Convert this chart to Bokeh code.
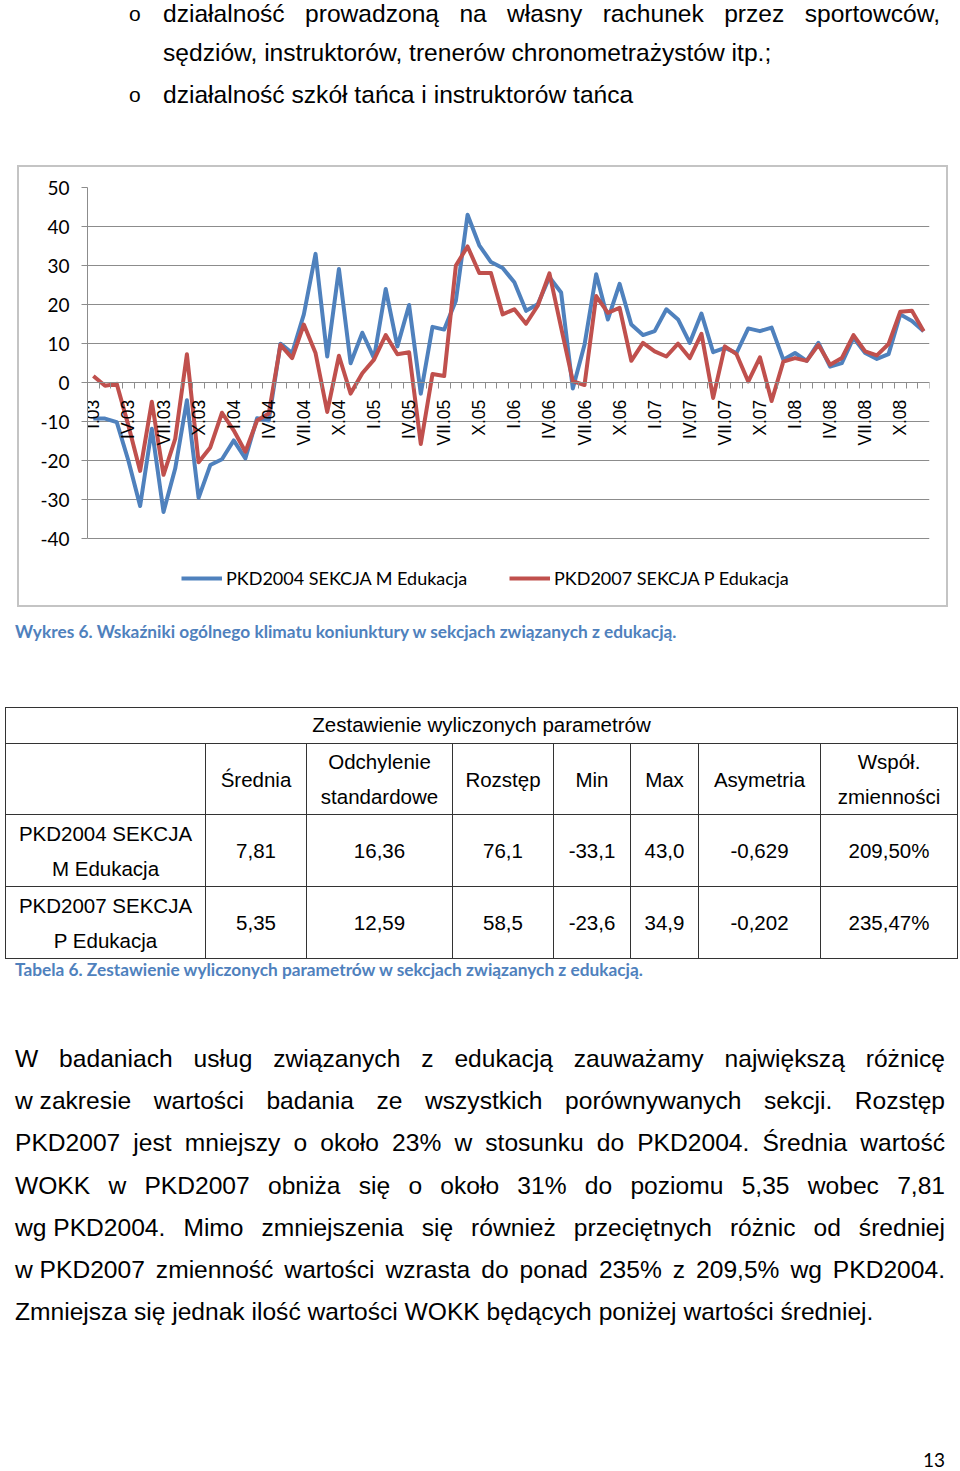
import math
from bokeh.plotting import figure
from bokeh.models import Div, Range1d, FixedTicker, Legend, LegendItem, Spacer
from bokeh.layouts import column, row
from bokeh.embed import file_html
from bokeh.resources import INLINE

# ---------------- data ----------------
tick_labels = ["I.03", "IV.03", "VII.03", "X.03",
               "I.04", "IV.04", "VII.04", "X.04",
               "I.05", "IV.05", "VII.05", "X.05",
               "I.06", "IV.06", "VII.06", "X.06",
               "I.07", "IV.07", "VII.07", "X.07",
               "I.08", "IV.08", "VII.08", "X.08"]

pkd2004 = [-9.2, -9.2, -10.1, -20.0, -31.6, -11.8, -33.1, -22.0, -4.5, -29.5, -21.1, -19.6,
           -14.8, -19.4, -9.1, -9.7, 10.0, 7.6, 17.5, 33.0, 6.7, 29.1, 5.0, 12.8,
           6.3, 24.0, 9.3, 19.9, -2.8, 14.3, 13.6, 21.0, 43.0, 35.2, 30.9, 29.4,
           25.7, 18.4, 20.1, 27.0, 23.1, -1.5, 9.7, 27.8, 16.2, 25.3, 14.9, 12.2,
           13.2, 18.8, 16.2, 10.2, 17.7, 7.8, 8.9, 7.6, 13.9, 13.2, 14.1, 5.9,
           7.6, 5.6, 10.2, 4.1, 5.0, 11.5, 7.6, 6.1, 7.3, 17.5, 15.8, 13.2]

pkd2007 = [1.7, -0.8, -0.3, -11.0, -22.6, -4.9, -23.6, -14.4, 7.3, -20.4, -16.6, -7.7,
           -12.2, -17.7, -9.7, -7.9, 9.7, 6.3, 14.9, 7.6, -7.5, 6.9, -2.8, 2.4,
           5.9, 12.2, 7.3, 7.8, -15.7, 2.2, 1.7, 30.0, 34.9, 28.1, 28.1, 17.5,
           18.8, 15.1, 19.7, 28.0, 14.1, 0.4, -0.6, 22.2, 17.9, 19.2, 5.6, 10.2,
           8.0, 6.7, 10.0, 6.3, 12.5, -3.9, 9.3, 7.3, 0.3, 6.5, -4.7, 5.4,
           6.3, 5.6, 9.7, 4.6, 6.3, 12.2, 8.0, 7.0, 9.9, 18.2, 18.4, 13.2]

series_names = ["PKD2004 SEKCJA M Edukacja", "PKD2007 SEKCJA P Edukacja"]
y_ticks = [-40, -30, -20, -10, 0, 10, 20, 30, 40, 50]
y_tick_labels = ["-40", "-30", "-20", "-10", "0", "10", "20", "30", "40", "50"]

table_title = "Zestawienie wyliczonych parametrów"
table_cols = ["Średnia", "Odchylenie<br>standardowe", "Rozstęp", "Min", "Max",
              "Asymetria", "Współ.<br>zmienności"]
table_rows = ["PKD2004 SEKCJA<br>M Edukacja", "PKD2007 SEKCJA<br>P Edukacja"]
table_vals = [["7,81", "16,36", "76,1", "-33,1", "43,0", "-0,629", "209,50%"],
              ["5,35", "12,59", "58,5", "-23,6", "34,9", "-0,202", "235,47%"]]

# ---------------- styles ----------------
BLUE = "#4F81BD"
RED = "#C0504D"
GRID = "#8C8C8C"
CAP = "#4F81BD"
ARIAL = "'Liberation Sans', Arial, sans-serif"
CALI = "Lato, 'Open Sans', sans-serif"
PAGE_W = 960
BODY_FS = "24.6px"

n = len(pkd2004)
idx = list(range(n))

# ---------------- top text ----------------
top_html = f"""<div style="position:relative;width:{PAGE_W}px;height:165px;font-family:{ARIAL};font-size:{BODY_FS};color:#000;">
  <div style="position:absolute;left:129px;top:-7px;line-height:42px;font-size:21px;">o</div>
  <div style="position:absolute;left:163px;top:-7px;width:777px;line-height:42px;text-align:justify;text-align-last:justify;">działalność prowadzoną na własny rachunek przez sportowców,</div>
  <div style="position:absolute;left:163px;top:32px;width:777px;line-height:42px;">sędziów, instruktorów, trenerów chronometrażystów itp.;</div>
  <div style="position:absolute;left:129px;top:74px;line-height:42px;font-size:21px;">o</div>
  <div style="position:absolute;left:163px;top:74px;width:777px;line-height:42px;">działalność szkół tańca i instruktorów tańca</div>
</div>"""
div_top = Div(text=top_html, width=PAGE_W, height=165, margin=0)

# ---------------- chart ----------------
FRAME_H = 418          # plot frame height in px (down to just above box bottom)
GRID_H = 348           # px spanned by -40..50
y_lo = 50 - (50 - (-40)) * FRAME_H / GRID_H

p = figure(width=931, height=442, output_backend="svg", toolbar_location=None,
           x_range=Range1d(-0.5, n - 0.5), y_range=Range1d(y_lo, 50),
           min_border_left=68, min_border_right=21, min_border_top=20,
           min_border_bottom=0, outline_line_color=None,
           background_fill_color="white", border_fill_color="white",
           margin=0,
           styles={"border": "2px solid #C4C4C4", "box-sizing": "border-box"})

p.xgrid.visible = False
p.ygrid.ticker = FixedTicker(ticks=y_ticks)
p.ygrid.grid_line_color = GRID
p.ygrid.grid_line_width = 1
p.ygrid.bounds = (-40, 50)

r1 = p.line(idx, pkd2004, line_color=BLUE, line_width=4, line_join="round")
r2 = p.line(idx, pkd2007, line_color=RED, line_width=4, line_join="round")

major = list(range(0, n, 3))
minor = [k + 0.5 for k in range(-1, n)]
p.xaxis.ticker = FixedTicker(ticks=major, minor_ticks=minor)
p.xaxis.major_label_overrides = {t: lab for t, lab in zip(major, tick_labels)}
p.xaxis.major_label_orientation = math.pi / 2
p.xaxis.fixed_location = 0
p.xaxis.major_tick_line_color = None
p.xaxis.minor_tick_in = 0
p.xaxis.minor_tick_out = 6
p.xaxis.minor_tick_line_color = GRID
p.xaxis.axis_line_color = GRID
p.xaxis.major_label_standoff = 11
p.xaxis.major_label_text_font = "Liberation Sans"
p.xaxis.major_label_text_font_size = "17.5px"
p.xaxis.major_label_text_color = "#000000"

p.yaxis.ticker = FixedTicker(ticks=y_ticks)
p.yaxis.major_label_overrides = {t: lab for t, lab in zip(y_ticks, y_tick_labels)}
p.yaxis.bounds = (-40, 50)
p.yaxis.axis_line_color = GRID
p.yaxis.major_tick_line_color = GRID
p.yaxis.major_tick_in = 0
p.yaxis.major_tick_out = 6
p.yaxis.minor_tick_line_color = None
p.yaxis.major_label_standoff = 12
p.yaxis.major_label_text_font = "Lato"
p.yaxis.major_label_text_font_size = "19px"
p.yaxis.major_label_text_color = "#000000"

for r, name, xloc in [(r1, series_names[0], 94), (r2, series_names[1], 422)]:
    leg = Legend(items=[LegendItem(label=name, renderers=[r])],
                 location=(xloc, 20), orientation="horizontal",
                 glyph_width=41, glyph_height=22, label_standoff=4,
                 label_height=22,
                 padding=0, margin=0, border_line_color=None,
                 background_fill_alpha=0,
                 label_text_font="Lato", label_text_font_size="18px",
                 label_text_color="#000000", label_text_baseline="middle")
    p.add_layout(leg)

chart_row = row(Spacer(width=17, height=442, margin=0), p, margin=0, spacing=0)

# ---------------- captions ----------------
cap1 = Div(width=PAGE_W, height=100, margin=0, text=f"""<div style="position:relative;width:{PAGE_W}px;height:100px;">
<div style="position:absolute;left:15px;top:13px;line-height:24px;font-family:{CALI};font-weight:bold;font-size:17.3px;color:{CAP};white-space:nowrap;">Wykres 6. Wskaźniki ogólnego klimatu koniunktury w sekcjach związanych z edukacją.</div>
</div>""")

# ---------------- table ----------------
bd = "1.5px solid #333333"
cw = [200, 101, 146, 101, 77, 68, 122, 137]
colgroup = "<colgroup>" + "".join(f'<col style="width:{w}px;">' for w in cw) + "</colgroup>"
cells = f'<tr style="height:36px;"><td colspan="8" style="border:{bd};text-align:center;padding:0 0 2px 0;line-height:32px;">{table_title}</td></tr>'
hdr = "".join(f'<td style="border:{bd};text-align:center;line-height:35px;padding:0;">{c}</td>' for c in table_cols)
cells += f'<tr style="height:71px;"><td style="border:{bd};padding:0;"></td>{hdr}</tr>'
for rn, vals in zip(table_rows, table_vals):
    vc = "".join(f'<td style="border:{bd};text-align:center;padding:0;">{v}</td>' for v in vals)
    cells += f'<tr style="height:72px;"><td style="border:{bd};text-align:center;line-height:35px;padding:0;white-space:nowrap;">{rn}</td>{vc}</tr>'
table_html = f"""<div style="width:{PAGE_W}px;height:251px;"><table style="border-collapse:collapse;width:952px;table-layout:fixed;font-family:{ARIAL};font-size:20.5px;color:#000;margin:0 0 0 5px;">
{colgroup}{cells}
</table></div>"""
div_table = Div(text=table_html, width=PAGE_W, height=251, margin=0)

cap2 = Div(width=PAGE_W, height=80, margin=0, text=f"""<div style="position:relative;width:{PAGE_W}px;height:80px;">
<div style="position:absolute;left:15px;top:0px;line-height:24px;font-family:{CALI};font-weight:bold;font-size:17.3px;color:{CAP};white-space:nowrap;">Tabela 6. Zestawienie wyliczonych parametrów w sekcjach związanych z edukacją.</div>
</div>""")

# ---------------- paragraph ----------------
para_lines = [
    "W badaniach usług związanych z edukacją zauważamy największą różnicę",
    '<span style="display:inline-block">w zakresie</span> wartości badania ze wszystkich porównywanych sekcji. Rozstęp',
    "PKD2007 jest mniejszy o około 23% w stosunku do PKD2004. Średnia wartość",
    "WOKK w PKD2007 obniża się o około 31% do poziomu 5,35 wobec 7,81",
    '<span style="display:inline-block">wg PKD2004.</span> Mimo zmniejszenia się również przeciętnych różnic od średniej',
    '<span style="display:inline-block">w PKD2007</span> zmienność wartości wzrasta do ponad 235% z 209,5% wg PKD2004.',
    "Zmniejsza się jednak ilość wartości WOKK będących poniżej wartości średniej.",
]
pl = ""
for i, line in enumerate(para_lines):
    last = "left" if i == len(para_lines) - 1 else "justify"
    pl += f'<div style="width:930px;height:42.2px;line-height:42.2px;text-align:justify;text-align-last:{last};">{line}</div>'
div_para = Div(width=PAGE_W, height=302, margin=0, text=f"""<div style="position:relative;left:15px;top:0px;font-family:{ARIAL};font-size:{BODY_FS};color:#000;">{pl}</div>""")

div_num = Div(width=PAGE_W, height=130, margin=0, text=f"""<div style="position:relative;width:{PAGE_W}px;height:130px;">
<div style="position:absolute;right:15px;top:108px;line-height:24px;font-family:{CALI};font-size:19px;color:#000;">13</div>
</div>""")

layout = column(div_top, chart_row, cap1, div_table, cap2, div_para, div_num, spacing=0, margin=0)

open("out.html", "w").write(file_html(layout, INLINE))
